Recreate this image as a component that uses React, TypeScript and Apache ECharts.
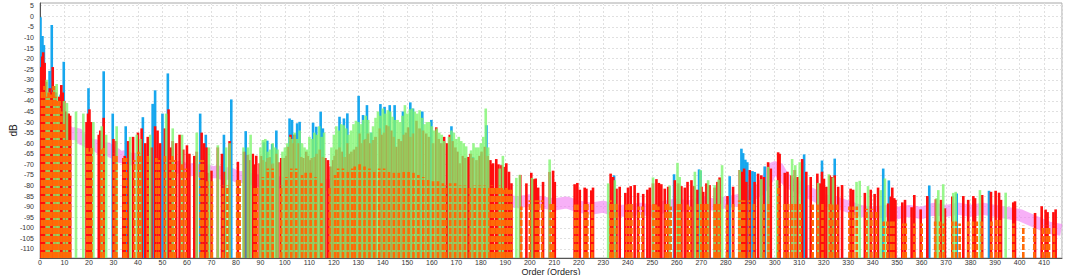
import React, { useEffect, useRef } from "react";
import * as echarts from "echarts";

const Y_MIN = -114.3;
const Y_MAX = 6.3;
const X_MIN = 0;
const X_MAX = 417.3;

const yTickValues = [-110, -105, -100, -95, -90, -85, -80, -75, -70, -65, -60, -55, -50, -45, -40, -35, -30, -25, -20, -15, -10, -5, 0, 5];

const blueBars = [
  [0.2, -0.4], [1, -9.3], [1.6, -13.6], [3.9, -25.8], [4.4, -34], [4.8, -4.1], [8.4, -37], [9.7, -21.5],
  [19.8, -34], [26, -26], [29.7, -46], [35, -52], [42, -47.7], [46, -41.4], [47, -35], [50, -46], [52.2, -27],
  [65.4, -46], [67.7, -56], [75.1, -56], [78.1, -39.3], [84, -54.3], [91.4, -59.6], [92.8, -58.8], [94.8, -60.4],
  [96.5, -54], [101.9, -48.3], [102.9, -49], [104, -56], [105, -50.6], [106, -49.9], [111.5, -50.3], [112.8, -52.2],
  [114.6, -45.1], [115.5, -53], [122.3, -47.5], [124.1, -48.3], [125.5, -45.9], [130.1, -37.6], [131.9, -46.7],
  [133.5, -42], [135.3, -55], [139, -41.5], [140.7, -42.8], [142.8, -42], [144.8, -42], [148.2, -45], [151.2, -40.7],
  [152.3, -43.6], [156.1, -45], [159.8, -49], [168, -52], [176.8, -66.5], [180.2, -65], [182.3, -51.5],
  [234.4, -75.2], [258.9, -74.7], [269.1, -72.4], [269.7, -73], [281.6, -75.6], [286.4, -62.6], [287.1, -64.7],
  [288, -67.8], [288.8, -69], [290.9, -73.2], [291.8, -73.6], [295.9, -71], [312, -65.3], [319.3, -68.2],
  [324.5, -67.3], [344.3, -72], [346.6, -77.6], [363.1, -80], [374.3, -83.8], [387.5, -82.5],
];

const redBars = [
  [0.3, -24], [0.9, -19], [1.3, -17], [1.9, -22], [2.5, -31], [3.2, -37], [4, -34], [4.5, -36], [5.2, -24],
  [5.8, -33], [6.5, -36], [7.2, -40], [7.8, -38], [8.7, -32.5], [9.3, -36], [9.9, -40], [10.5, -45], [11.1, -46],
  [11.7, -46], [12.3, -47], [19, -50], [19.6, -46], [20.2, -44], [20.8, -50], [24, -56], [24.6, -54], [26, -48],
  [30, -58], [31, -59], [34, -67], [34.6, -66], [36, -59], [38, -57], [40, -55], [41.5, -53], [43, -60], [44, -57],
  [45.5, -62], [47, -52], [48, -54], [49, -60], [51, -53], [52.5, -44], [53.5, -62], [54.2, -59], [55.6, -60],
  [57, -56], [58.5, -63], [60, -61], [61, -65], [63, -66], [64, -64], [66, -55], [67, -60], [68, -62], [68.6, -74],
  [70, -73], [72.6, -62], [74.3, -65], [75.4, -73.5], [77.4, -59], [80.8, -68.8], [83.3, -64], [84.9, -65.5],
  [85.5, -68], [86.9, -65], [87.6, -70], [88.3, -66], [89.7, -69.5], [90.3, -66], [91, -68], [92.4, -68.8],
  [93, -67], [93.8, -66.6], [94.5, -70], [95.1, -69.6], [96.5, -65], [97.3, -69], [98.5, -67], [99.9, -67],
  [100.6, -66], [101.2, -61.7], [102.3, -56], [103.2, -60], [104, -56], [105.4, -60], [106.7, -66.5], [107.5, -67],
  [108.7, -64], [109.4, -66], [110.1, -68], [111, -67], [112.1, -66.5], [113, -65], [114.2, -63], [115.5, -66.5],
  [116.5, -67], [117.6, -68], [118.7, -71], [119.7, -68], [120.3, -66], [121, -63], [122.3, -62], [123.2, -64],
  [124.4, -66.5], [125.5, -60], [126.3, -65], [127.1, -64], [128.2, -63], [129.2, -61.7], [130.5, -55.4],
  [131.2, -60], [132.3, -58.5], [133, -58], [133.9, -55.4], [134.8, -60], [136, -58.5], [137, -57], [138.7, -53],
  [139.6, -56], [140.5, -55], [141.4, -51.5], [142.3, -52], [143.5, -54], [144.4, -57], [145.5, -61.7], [146.5, -58],
  [147.5, -59], [148.5, -56], [149.4, -55], [150.3, -52.5], [151.2, -57], [152.3, -55.4], [153.7, -49.4], [155, -53],
  [156.4, -54], [157.7, -55.4], [158.8, -57], [160.5, -60], [161.8, -52.5], [162.8, -58], [163.9, -60], [165, -57],
  [166.2, -60], [167.3, -56], [168.5, -59], [169.6, -62], [170.5, -64], [171.4, -69.5], [172.6, -66], [173.6, -67],
  [174.8, -66.5], [175.8, -65], [176.8, -67], [178.2, -68], [179.4, -66], [180.3, -64], [181.6, -61.7], [182.8, -66],
  [183.9, -68], [184.4, -70], [185, -69.5], [186.3, -67.5], [187.2, -70], [188.4, -70.4], [189.5, -71.2],
  [190.4, -69.5], [191.5, -73.5], [192.5, -79], [196.1, -75], [198.6, -79], [200.6, -74], [201.6, -77],
  [202.4, -76.7], [203.4, -81], [205.4, -78.3], [208.1, -73.6], [209.5, -73], [210.2, -78.3], [218.3, -79.4],
  [219.4, -78.8], [220.4, -82], [222.4, -81], [223.1, -81.5], [225.1, -82.3], [225.8, -81], [233, -74.4], [234, -76],
  [235.4, -81.5], [236.7, -80.6], [239, -83.5], [240.1, -81], [241.2, -80.3], [242.8, -79.8], [244.2, -83.5],
  [246.3, -84], [248, -82], [249, -81], [250.3, -79], [251.7, -77], [252.7, -78.8], [253.7, -79.4], [255.1, -81.5],
  [256.5, -80.6], [259.2, -77.5], [260.6, -79], [261.9, -80.3], [263.3, -81], [264.4, -78.3], [266, -77.5],
  [267.1, -80.3], [268.4, -82], [270.1, -80.6], [270.8, -83], [272.1, -79], [273.4, -79.8], [275.5, -81],
  [276.6, -78.3], [277.5, -76.2], [280.7, -85], [283, -80.6], [285.7, -72.7], [286.6, -73.5], [287.5, -72],
  [288.4, -78.3], [289.8, -72.7], [291.8, -78.3], [293.2, -74.4], [294.5, -75.2], [295.6, -76], [297.3, -69],
  [298.4, -72], [301.4, -64.3], [302, -65], [304.1, -74], [305.2, -73.5], [306.8, -75.2], [308.2, -72.7],
  [309.3, -76], [311.2, -67.5], [312.9, -73.5], [314.7, -76], [317.4, -74.4], [318.4, -79], [319.3, -73.5],
  [320.1, -76.8], [321.1, -80.6], [322.5, -75.2], [323.4, -76], [324.5, -75.2], [325.9, -80.6], [327.5, -79.8],
  [331, -81.5], [332, -82], [336.8, -83.5], [339.2, -82], [340.8, -84], [342.2, -81], [346.3, -88.5],
  [347.4, -85.2], [348, -81], [348.8, -86], [349.3, -86.8], [352.1, -88], [353.2, -86.8], [355.9, -90.3],
  [357, -84.5], [359.6, -91.3], [362.3, -85], [365.8, -86.5], [367.9, -86.8], [369.5, -90.8], [372.5, -85.2],
  [377, -85], [379, -86.8], [381.1, -85], [381.8, -86], [384.7, -84.5], [388.3, -83], [390.2, -82.5],
  [391.6, -83.4], [392.4, -86.8], [397.4, -88], [398.1, -87.5], [406.3, -93], [409, -89.8], [410.6, -91.4],
  [411.4, -92.6], [413.8, -92.6], [414.7, -91.3],
];

const greenBars = [
  [2.7, -30], [3.6, -36], [5.8, -33], [6.8, -32], [7.6, -40], [9.8, -40], [11, -41], [14.7, -45], [17.7, -46],
  [21.8, -50], [25.2, -52], [27, -56], [31.3, -52], [36.8, -57], [39.5, -56], [41, -58], [45, -56], [51.5, -46],
  [54.2, -53], [58, -56], [64, -55], [69, -62], [72.6, -61], [76, -62], [77.4, -60], [83.1, -62], [84.9, -62],
  [86, -56], [90, -62], [91, -58.5], [92, -58], [93, -64], [94, -63], [95, -60], [96, -62], [97, -63],
  [99, -64], [100, -62], [101, -60], [102, -57], [103, -58], [104, -55], [105, -58], [106, -54], [107, -60],
  [108, -62], [109, -63], [110, -57], [111, -58], [112, -55], [113, -56], [114, -52], [115, -57], [116, -55],
  [119, -62], [120, -56], [121, -52], [122, -54], [123, -51], [124, -51.5], [125, -53], [126, -56], [127, -54],
  [128, -51], [129, -49.4], [130, -50], [131, -51], [132, -49], [133, -47], [134, -49], [135, -55], [136, -52],
  [137, -48], [138, -45], [139, -47], [140, -43.6], [141, -46], [142, -44.4], [143, -45], [144, -47.5], [145, -49],
  [146, -49], [147, -50], [148, -47], [149, -42], [150, -46], [151, -44], [152, -43.6], [153, -45], [154, -46],
  [155, -44.4], [156, -48], [157, -51], [158, -50], [159, -50], [160, -52], [161, -54], [162, -53], [163, -55],
  [164, -56], [165, -59], [167, -57], [168, -54], [169, -55], [170, -58], [171, -57], [172, -59], [173, -60],
  [174, -61.5], [176, -63.4], [177, -60], [178, -62], [179, -62], [180, -60], [181, -57], [182, -43.6], [183, -62],
  [187.7, -72], [189, -66], [194.5, -76.4], [195.9, -75], [200.9, -76.4], [208.1, -67.7], [232, -79],
  [234.7, -77.5], [250.3, -76.2], [257.1, -80], [260.3, -69.3], [261.2, -76], [267.4, -73.5], [269.7, -72.7],
  [272.8, -77.5], [275.5, -79.8], [277.1, -77.2], [278.5, -70.4], [285.7, -72.7], [294.5, -77], [297.3, -71.2],
  [301, -77.5], [307.1, -67.5], [308.4, -70.4], [310.2, -69], [317.7, -78.8], [322.1, -74.7], [323.8, -76.2],
  [333.4, -78.3], [334.7, -77.8], [338.1, -80.3], [343.3, -82.2], [345, -76.7], [366.1, -86], [366.8, -82.2],
  [368.8, -79.4], [372.9, -83.5], [373.9, -83], [383.8, -82.2], [394.3, -83.4],
];

const orangeBars = [
  [0.8, -35], [1.8, -33], [2.8, -38], [3.5, -36], [4.5, -37], [5.5, -33], [6.3, -38], [7, -40], [8, -40],
  [8.8, -45], [9.8, -50], [10.8, -58], [11.6, -58], [12.3, -58], [19.3, -62], [20.2, -64], [21, -62], [25, -63],
  [26, -62], [30.2, -65], [31.2, -66], [34.2, -67], [35.2, -67], [38.5, -68], [40.2, -64], [41, -65], [44, -66],
  [47.5, -67], [48.5, -68], [51, -66], [53.2, -68], [54, -66], [55, -68], [58, -70], [59.5, -72], [65.6, -68],
  [66.5, -68], [68.3, -78], [70.2, -78], [74.7, -80], [76.5, -80], [80.5, -77], [81.5, -77],
  [87.6, -81], [88.6, -81], [91, -76], [93, -72], [95, -72], [98.5, -80], [100.6, -76], [102.6, -72], [104.6, -72],
  [107, -75], [108.5, -74], [110.5, -74], [112.5, -76], [114.9, -79], [118.3, -81], [120.5, -75], [121.7, -72],
  [123.7, -72], [125.7, -73], [127.5, -72], [128.5, -71], [130.5, -70], [132.5, -71], [134.5, -72], [136.5, -73],
  [138.5, -72], [140.5, -72], [142.5, -73], [144.5, -74], [146.5, -74], [148.5, -73], [150.5, -73], [152.5, -74],
  [154.5, -75], [156.5, -76], [158.5, -77], [160.5, -78], [162.5, -78], [164.5, -79], [165.6, -80], [167.5, -79],
  [169.5, -79], [171.5, -80], [173.5, -80], [175.5, -81], [177.5, -80], [179.5, -80], [181.5, -80], [183.5, -81],
  [184.5, -80], [185.5, -81], [186.5, -81], [187.5, -80], [188.5, -81], [189.5, -82], [190.5, -81], [191.5, -82],
  [192.5, -82], [196.5, -90], [200, -87], [202.5, -87], [203.5, -87], [205, -87], [208.5, -88], [209.5, -88],
  [218.5, -89], [219.5, -89], [222.5, -88], [223.5, -88], [225.5, -88], [233, -87], [234, -88], [235.5, -88],
  [239.5, -89], [240.5, -88], [241.5, -88], [244.5, -90], [246, -90], [250.5, -88], [251.5, -89], [252.5, -90],
  [255.5, -88], [256.5, -88], [257.5, -90], [260.5, -88], [261.5, -88], [264.5, -89], [265.5, -90], [268.5, -88],
  [270, -88], [271.5, -88], [272.5, -88], [275.5, -88], [276.5, -88], [277.5, -88], [280.5, -89], [283, -88],
  [285.5, -87], [286.5, -87], [287.5, -87], [289.5, -87], [291.5, -88], [295.5, -88], [297.5, -88], [301.5, -80],
  [304, -88], [305.5, -88], [307, -88], [308.5, -88], [310.5, -88], [315.5, -89], [317.5, -89], [319.5, -88],
  [322.5, -88], [323.5, -89], [325.5, -89], [330.5, -90], [332, -90], [333.5, -90], [337.5, -91], [339.5, -91],
  [341.5, -92], [344.5, -97], [346, -97], [347.5, -97], [348.5, -97], [352.5, -98], [353.5, -98], [357, -98],
  [360, -98], [365.5, -97], [367.5, -97], [369, -98], [372.5, -97], [374, -97], [375.5, -98], [379, -97],
  [381, -97], [382.5, -97], [384.5, -97], [388.5, -97], [390.5, -96], [392, -96], [397.5, -98], [401.5, -99],
  [406, -99], [409.5, -99], [411, -99], [412, -99], [414, -99],
];

const pinkBand = [
  [11, -54], [13, -56], [15, -55], [17, -58], [19, -59], [21, -61], [23, -61], [25, -63], [27, -62], [29, -64],
  [31, -65], [33, -67], [35, -66], [37, -68], [39, -67], [41, -69], [43, -69], [45, -70], [47, -69], [49, -71],
  [51, -70], [53, -71], [55, -72], [57, -71], [59, -72], [61, -73], [63, -72], [65, -73], [67, -74], [69, -73],
  [71, -74], [73, -73], [75, -75], [77, -74], [79, -75], [81, -76], [83, -76], [85, -77], [87, -77], [90, -78],
  [95, -78], [100, -79], [110, -79], [120, -80], [130, -80], [140, -81], [150, -81], [160, -82], [170, -83],
  [180, -84], [185, -86], [190, -87], [195, -88], [200, -87], [205, -88], [210, -89], [215, -88], [220, -90],
  [225, -91], [230, -90], [235, -92], [240, -92], [245, -91], [250, -92], [255, -90], [260, -89], [265, -90],
  [270, -88], [275, -89], [280, -88], [285, -87], [290, -85], [294, -82], [297, -77], [299, -72], [301, -71],
  [303, -75], [306, -79], [310, -81], [315, -84], [320, -87], [325, -88], [330, -90], [335, -92], [340, -93],
  [345, -92], [350, -93], [355, -92], [360, -93], [365, -91], [370, -92], [375, -91], [380, -92], [385, -91],
  [390, -92], [395, -93], [400, -94], [404, -96], [408, -98], [412, -100], [417, -101],
];

function barItem(color: string, width: number, opacity: number) {
  return (_params: any, api: any) => {
    const x = api.value(0);
    const v = api.value(1);
    const top = api.coord([x, v]);
    const bot = api.coord([x, Y_MIN]);
    return {
      type: "rect",
      shape: { x: top[0] - width / 2, y: top[1], width, height: bot[1] - top[1] },
      style: { fill: color, opacity },
    };
  };
}

function dashItem(color: string, width: number) {
  return (_params: any, api: any) => {
    const x = api.value(0);
    const v = api.value(1);
    const top = api.coord([x, v]);
    const bot = api.coord([x, Y_MIN]);
    return {
      type: "line",
      shape: { x1: top[0], y1: bot[1], x2: top[0], y2: top[1] },
      style: { stroke: color, lineWidth: width, lineDash: [6, 2] },
    };
  };
}

export default function App() {
  const ref = useRef<HTMLDivElement>(null);
  useEffect(() => {
    document.body.style.margin = "0";
    if (!ref.current) return;
    const chart = echarts.init(ref.current, undefined, { renderer: "svg" });
    const font = "Liberation Sans, Arial, sans-serif";
    chart.setOption({
      animation: false,
      textStyle: { fontFamily: font },
      grid: {
        left: 40, right: 8, top: 3, bottom: 17, show: true, borderColor: "#a8a8a8", borderWidth: 1,
        outerBoundsMode: "none", containLabel: false,
      },
      xAxis: {
        type: "value",
        min: X_MIN,
        max: X_MAX,
        interval: 10,
        name: "Order (Orders)",
        nameLocation: "middle",
        nameGap: 9,
        nameMoveOverlap: false,
        nameTextStyle: { fontSize: 9, color: "#222", fontFamily: font },
        axisLine: { show: true, onZero: false, lineStyle: { color: "#555" } },
        axisTick: { show: false },
        axisLabel: { fontSize: 7, color: "#333", margin: 1, showMaxLabel: false, fontFamily: font },
        splitLine: { show: true, lineStyle: { color: "#e0e0e0", type: [2, 2] } },
      },
      yAxis: {
        type: "value",
        min: Y_MIN,
        max: Y_MAX,
        name: "dB",
        nameLocation: "middle",
        nameGap: 22,
        nameMoveOverlap: false,
        nameTextStyle: { fontSize: 10, color: "#222", fontFamily: font },
        axisLine: { show: true, onZero: false, lineStyle: { color: "#555" } },
        axisTick: { show: false, customValues: yTickValues },
        axisLabel: { fontSize: 7, color: "#333", margin: 6, customValues: yTickValues, fontFamily: font },
        splitLine: { show: true, lineStyle: { color: "#e0e0e0", type: [2, 2] } },
      },
      series: [
        {
          type: "line",
          data: pinkBand,
          showSymbol: false,
          symbol: "none",
          lineStyle: { color: "#f27cf2", width: 12, opacity: 0.6 },
          z: 1,
        },
        { type: "custom", data: blueBars, renderItem: barItem("#17a7ee", 2.6, 1), clip: true, encode: { x: 0, y: 1 }, z: 2 },
        { type: "custom", data: redBars, renderItem: barItem("#ff0d0d", 2.6, 1), clip: true, encode: { x: 0, y: 1 }, z: 3 },
        { type: "custom", data: greenBars, renderItem: barItem("#7ff56f", 2.6, 0.8), clip: true, encode: { x: 0, y: 1 }, z: 4 },
        { type: "custom", data: orangeBars, renderItem: dashItem("#ff6a06", 2.6), clip: true, encode: { x: 0, y: 1 }, z: 5 },
      ],
    });
    return () => chart.dispose();
  }, []);
  return <div ref={ref} style={{ width: 1070, height: 275 }} />;
}
